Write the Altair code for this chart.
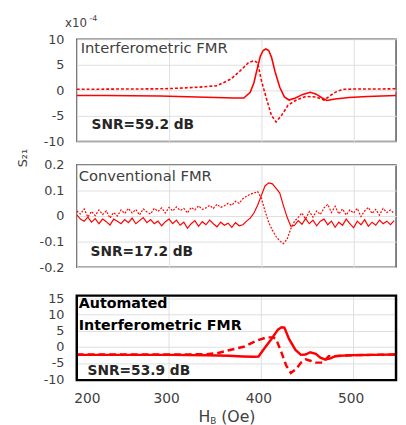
import altair as alt
import pandas as pd

# ---------------- data ----------------
# Interferometric FMR (units x1e-4)
INT_H_SOLID = [200, 230, 260, 290, 320, 350, 370, 381, 388, 392, 395, 399, 402, 405, 408,
               411, 415, 420, 425, 430, 437, 445, 453, 459, 466, 471, 480, 495, 515, 546]
INT_V_SOLID = [-1.0, -1.0, -1.05, -1.1, -1.25, -1.4, -1.5, -1.5, -0.4, 1.5, 3.8, 6.7, 7.8, 8.1, 7.8,
               6.5, 3.6, 0.6, -1.3, -1.9, -1.5, -0.8, -0.4, -0.7, -1.5, -2.0, -1.7, -1.4, -1.2, -1.0]
INT_H_DASH = [200, 250, 296, 331, 352, 367, 377, 386, 392, 396, 400, 406, 411, 416, 422, 429,
              438, 448, 459, 468, 475, 480, 488, 500, 520, 546]
INT_V_DASH = [0.2, 0.25, 0.3, 0.6, 0.9, 2.2, 3.8, 5.4, 5.8, 5.4, 2.0, -1.9, -4.9, -6.2, -4.9, -2.9,
              -1.9, -1.2, -1.3, -1.9, -1.0, -0.4, 0.2, 0.25, 0.25, 0.3]

# Conventional FMR
CONV_H = [200, 204, 208, 212, 216, 220, 224, 228, 232, 236, 240, 244, 248, 252, 256, 260, 264, 268,
          272, 276, 280, 284, 288, 292, 296, 300, 304, 308, 312, 316, 320, 324, 328, 332, 336, 340,
          344, 348, 352, 356, 360, 364, 368, 372, 376, 380, 384, 388, 392, 396, 400, 404, 408, 412,
          416, 420, 424, 428, 432, 436, 440, 444, 448, 452, 456, 460, 464, 468, 472, 476, 480, 484,
          488, 492, 496, 500, 504, 508, 512, 516, 520, 524, 528, 532, 536, 540, 544]
CONV_V_SOLID = [0.005, -0.012, -0.02, -0.004, -0.024, -0.01, -0.03, -0.012, -0.022, -0.035,
                -0.012, -0.02, -0.03, -0.014, -0.026, -0.008, -0.03, -0.018, -0.006, -0.026,
                -0.014, -0.03, -0.02, -0.038, -0.022, -0.012, -0.03, -0.016, -0.036, -0.024,
                -0.048, -0.03, -0.018, -0.04, -0.022, -0.034, -0.016, -0.03, -0.042, -0.024,
                -0.036, -0.028, -0.044, -0.026, -0.038, -0.034, -0.02, -0.008, 0.012, 0.042,
                0.08, 0.118, 0.13, 0.126, 0.108, 0.09, 0.04, -0.005, -0.04, -0.036,
                -0.018, -0.032, -0.01, -0.03, -0.016, -0.038, -0.02, -0.012, -0.034, -0.02,
                -0.044, -0.024, -0.036, -0.012, -0.03, -0.046, -0.02, -0.034, -0.014, -0.04,
                -0.024, -0.036, -0.016, -0.03, -0.02, -0.034, -0.018]
CONV_V_DASH = [0.02, 0.008, 0.028, -0.004, 0.018, 0.002, 0.024, 0.006, 0.02, -0.008,
               0.014, 0.0, 0.024, 0.01, 0.03, 0.012, 0.026, 0.004, 0.028, 0.016,
               0.008, 0.03, 0.018, 0.032, 0.012, 0.034, 0.02, 0.036, 0.022, 0.03,
               0.012, 0.034, 0.024, 0.04, 0.026, 0.032, 0.042, 0.03, 0.046, 0.034,
               0.04, 0.05, 0.042, 0.058, 0.05, 0.068, 0.078, 0.086, 0.09, 0.096,
               0.07, 0.02, -0.025, -0.055, -0.08, -0.098, -0.108, -0.09, -0.05, -0.02,
               -0.005, 0.012, -0.012, 0.018, -0.004, 0.02, 0.006, 0.032, 0.046, 0.014,
               0.038, 0.008, 0.028, 0.004, 0.024, 0.012, 0.03, -0.002, 0.02, 0.034,
               0.01, 0.026, 0.004, 0.03, 0.014, 0.024, 0.01]

# Automated interferometric FMR
AUTO_H_SOLID = [200, 250, 300, 340, 365, 380, 392, 397, 402, 411, 418, 422, 425, 430, 437, 443,
                448, 453, 459, 464, 469, 475, 480, 495, 520, 546]
AUTO_V_SOLID = [-2.5, -2.5, -2.5, -2.6, -2.8, -3.0, -3.1, -3.0, -1.0, 2.4, 5.3, 6.0, 5.9, 2.4, -1.0, -2.5,
                -2.4, -1.7, -2.2, -3.4, -3.9, -3.6, -2.9, -2.6, -2.5, -2.4]
AUTO_H_DASH = [200, 260, 315, 340, 352, 366, 381, 395, 406, 413, 416, 422, 427, 432, 438, 443,
               448, 454, 459, 466, 470, 473, 480, 500, 520, 546]
AUTO_V_DASH = [-2.4, -2.4, -2.4, -2.3, -2.0, -1.0, 0.0, 1.9, 2.9, 2.9, 2.4, -1.9, -5.8, -8.1, -6.8, -4.9,
               -3.9, -4.4, -4.9, -4.9, -3.9, -2.9, -2.9, -2.6, -2.5, -2.4]

X_TICKS = [200, 300, 400, 500]
X_GRID = [300, 400, 500]
Y1_TICKS = [-10, -5, 0, 5, 10]
Y2_TICKS = [-0.2, -0.1, 0, 0.1, 0.2]
Y3_TICKS = [-10, -5, 0, 5, 10, 15]

# ---------------- style ----------------
RED = "#ff0000"
FONT = "DejaVu Sans"
GRID = "#dedede"
W = 325
XDOM = [200, 546]
Y3DOM = [-10.3, 17.3]


def df(h, v):
    return pd.DataFrame({"H": h, "v": v})


def xenc(show_labels, grid=True):
    return alt.X(
        "H:Q",
        scale=alt.Scale(domain=XDOM, nice=False, zero=False),
        axis=alt.Axis(values=X_TICKS, labels=show_labels, title=None, labelFontSize=14,
                      labelPadding=12, labelOffset=-3, labelColor="#404040", labelFont=FONT,
                      grid=grid),
    )


def yenc(dom, ticks):
    return alt.Y(
        "v:Q",
        scale=alt.Scale(domain=dom, nice=False, zero=False),
        axis=alt.Axis(values=ticks, title=None, labelFontSize=13, labelPadding=13,
                      labelExpr="'' + datum.value", labelColor="#404040", labelFont=FONT),
    )


def line(h, v, dom, ticks, width, dash=None, labels=False, grid=True):
    kw = dict(color=RED, strokeWidth=width, clip=True)
    if dash:
        kw["strokeDash"] = dash
    return alt.Chart(df(h, v)).mark_line(**kw).encode(x=xenc(labels, grid), y=yenc(dom, ticks))


def txt(s, x, y, size, bold=False, color="#404040", angle=0, align="left"):
    kw = dict(text=s, fontSize=size, font=FONT, color=color, align=align, baseline="middle")
    if bold:
        kw["fontWeight"] = "bold"
    if angle:
        kw["angle"] = angle
    return alt.Chart(alt.Data(values=[{}])).mark_text(**kw).encode(
        x=alt.value(x), y=alt.value(y))


# ---------------- panels ----------------
p1 = alt.layer(
    line(INT_H_DASH, INT_V_DASH, [-10, 10], Y1_TICKS, 1.6, [3, 2]),
    line(INT_H_SOLID, INT_V_SOLID, [-10, 10], Y1_TICKS, 1.6),
    txt("Interferometric FMR", 4, 9, 15),
    txt("SNR=59.2 dB", 15, 87, 14, bold=True, color="#262626"),
    txt("x10", -12, -16, 12),
    txt("-4", 13, -21, 8),
    txt("S₂₁", -55, 121, 13, angle=270, align="center"),
).properties(width=W, height=104,
             view=alt.ViewBackground(stroke="#595959", strokeWidth=1.5))

p2 = alt.layer(
    line(CONV_H, CONV_V_DASH, [-0.2, 0.2], Y2_TICKS, 1.2, [2, 1.5]),
    line(CONV_H, CONV_V_SOLID, [-0.2, 0.2], Y2_TICKS, 1.2),
    txt("Conventional FMR", 2, 11, 15),
    txt("SNR=17.2 dB", 14, 89, 14, bold=True, color="#262626"),
).properties(width=W, height=104,
             view=alt.ViewBackground(stroke="#595959", strokeWidth=1.5))

# panel 3: plot area starts 5px above its black frame
vgrid3 = alt.Chart(pd.DataFrame({"H": X_GRID})).mark_rule(color=GRID, strokeWidth=1).encode(
    x=xenc(True, False), y=alt.value(5), y2=alt.value(91))
frame3 = alt.Chart(alt.Data(values=[{}])).mark_rect(
    fill="transparent", stroke="#000000", strokeWidth=2.5).encode(
    x=alt.value(0), x2=alt.value(W), y=alt.value(5), y2=alt.value(91))

p3 = alt.layer(
    vgrid3,
    line(AUTO_H_DASH, AUTO_V_DASH, Y3DOM, Y3_TICKS, 2.5, [7, 4], labels=True, grid=False),
    line(AUTO_H_SOLID, AUTO_V_SOLID, Y3DOM, Y3_TICKS, 2.5, labels=True, grid=False),
    frame3,
    txt("Automated", 2, 14, 14.5, bold=True, color="#000000"),
    txt("Interferometric FMR", 2, 36, 14.5, bold=True, color="#000000"),
    txt("SNR=53.9 dB", 11, 82, 14, bold=True, color="#262626"),
    txt("H", 124, 129, 16),
    txt("B", 136, 133, 9),
    txt("(Oe)", 147, 129, 16),
).properties(width=W, height=91,
             view=alt.ViewBackground(stroke="transparent"))

chart = alt.vconcat(p1, p2, p3, spacing=24, bounds="flush").properties(
    padding={"left": 8, "top": 2, "right": 0, "bottom": 0}
).configure_axis(
    gridColor=GRID, gridWidth=1, domain=False, ticks=False,
)

chart.save("out.html", embed_options={"renderer": "svg", "actions": False})
